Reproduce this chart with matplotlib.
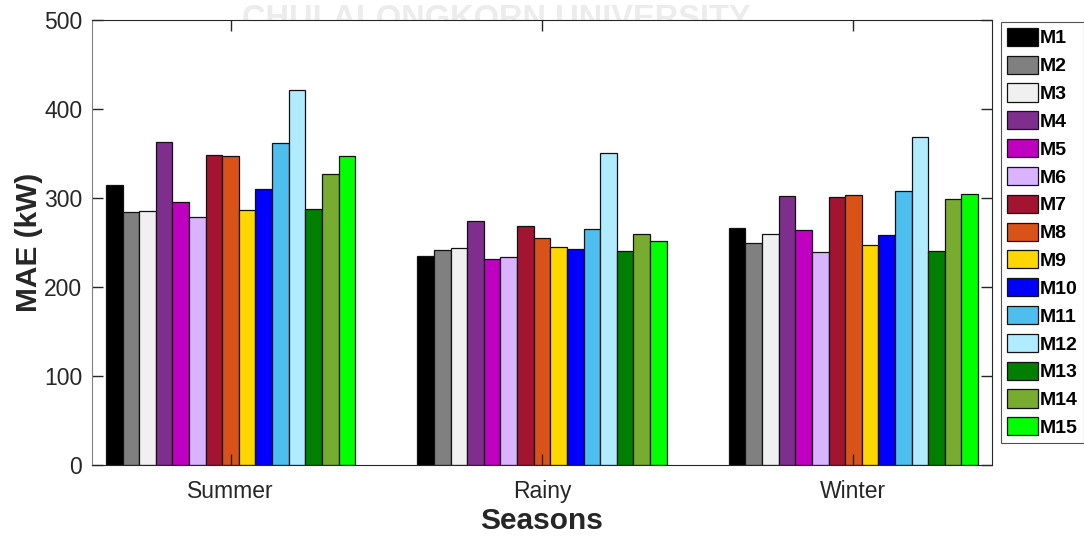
import numpy as np
from matplotlib import pyplot as plt

plt.rcParams.update({
    "font.family": ['Liberation Sans', 'DejaVu Sans'],
    "font.size": 16,
    "axes.unicode_minus": False,
})

seasons = ['Summer', 'Rainy', 'Winter']
models = ['M%d' % i for i in range(1, 16)]

# MAE (kW) per model, order: Summer, Rainy, Winter
mae = {
    'M1': [315, 235, 266],
    'M2': [284, 242, 249],
    'M3': [285, 244, 260],
    'M4': [363, 274, 302],
    'M5': [296, 232, 264],
    'M6': [279, 234, 239],
    'M7': [348, 268, 301],
    'M8': [347, 255, 303],
    'M9': [287, 245, 247],
    'M10': [310, 243, 258],
    'M11': [362, 265, 308],
    'M12': [421, 351, 369],
    'M13': [288, 241, 240],
    'M14': [327, 259, 299],
    'M15': [347, 252, 305],
}

colors = ['#000000', '#808080', '#F0F0F0', '#7E2F8E', '#C000C0',
          '#DAB3FF', '#A2142F', '#D95319', '#FFD700', '#0000FF',
          '#4DBEEE', '#B0EBFF', '#007F00', '#77AC30', '#00FF00']

fig = plt.figure(figsize=(10.84, 5.36), dpi=100)
ax = fig.add_axes([92 / 1084, 1 - 465 / 536, 900 / 1084, 445 / 536])

# faint watermark, mostly hidden behind the axes
fig.text(0.458, 1 - 4 / 536, 'CHULALONGKORN UNIVERSITY', fontsize=23.5, fontweight='bold',
         color='#ececec', ha='center', va='top', zorder=0)
ax.set_zorder(1)

x = np.arange(1, len(seasons) + 1)
w = 0.8 / len(models)
handles = []
for i, m in enumerate(models):
    b = ax.bar(x + (i - 7) * w, mae[m], width=w, color=colors[i],
               edgecolor='#111111', linewidth=0.9, label=m)
    handles.append(b)

ax.set_xlim(0.555, 3.445)
ax.set_ylim(0, 500)
ax.set_yticks([0, 100, 200, 300, 400, 500])
ax.set_xticks(x)
ax.set_xticklabels(seasons)
ax.tick_params(axis='both', direction='in', length=8, width=1, colors='#262626',
               labelsize=16.5, top=True, right=True, labelcolor='#262626')
ax.tick_params(axis='x', pad=11)
ax.tick_params(axis='y', pad=7)
for s in ['top', 'right', 'bottom']:
    ax.spines[s].set_color('#262626')
ax.spines['left'].set_color('#808080')

ax.set_xlabel('Seasons', fontsize=21.5, fontweight='bold', color='#262626', labelpad=3)
ax.set_ylabel('MAE (kW)', fontsize=21.5, fontweight='bold', color='#262626', labelpad=1)

leg = fig.legend(handles=handles, labels=models, loc='upper left',
                 bbox_to_anchor=(1001 / 1084, 1 - 22 / 536), frameon=True,
                 fancybox=False, edgecolor='#262626', prop={'weight': 'bold', 'size': 14},
                 handlelength=1.6, handleheight=1.05, handletextpad=0.1,
                 labelspacing=0.42, borderpad=0.3, borderaxespad=0)
leg.get_frame().set_linewidth(0.8)

fig.savefig('out.png', dpi=100)
